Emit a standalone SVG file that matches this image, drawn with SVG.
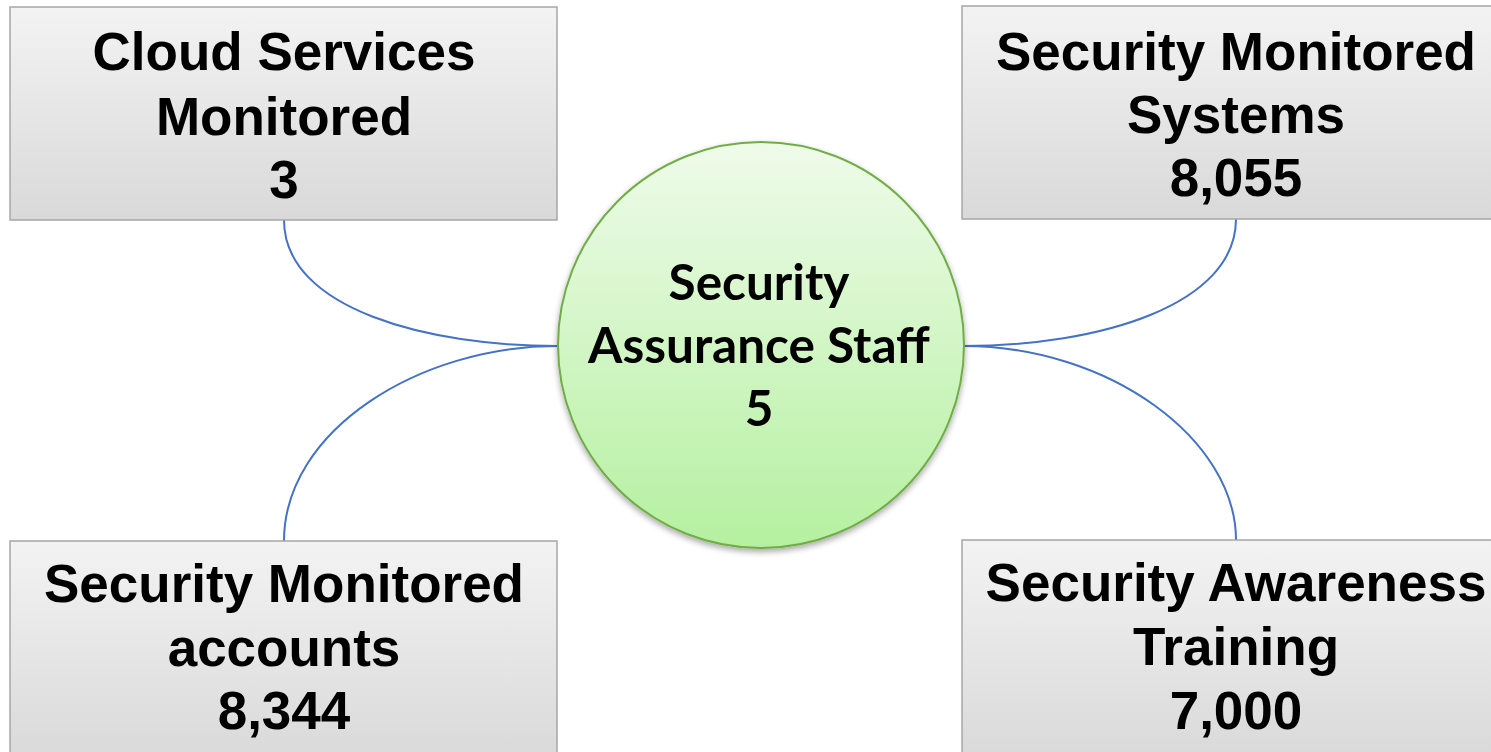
<svg xmlns="http://www.w3.org/2000/svg" width="1491" height="752" viewBox="0 0 1491 752">
<defs>
<linearGradient id="gBox" x1="0" y1="0" x2="0" y2="1">
<stop offset="0" stop-color="#f3f3f3"/>
<stop offset="1" stop-color="#d9d9d9"/>
</linearGradient>
<linearGradient id="gCirc" x1="0" y1="0" x2="0" y2="1">
<stop offset="0" stop-color="#effbea"/>
<stop offset="1" stop-color="#b5f0a0"/>
</linearGradient>
<filter id="sh" x="-20%" y="-20%" width="140%" height="140%">
<feGaussianBlur in="SourceAlpha" stdDeviation="3"/>
<feOffset dx="0" dy="3" result="b"/>
<feComponentTransfer><feFuncA type="linear" slope="0.35"/></feComponentTransfer>
<feMerge><feMergeNode/><feMergeNode in="SourceGraphic"/></feMerge>
</filter>
</defs>
<style>
.box{fill:url(#gBox);stroke:#a6a6a6;stroke-width:1.5}
.bt{font-family:"Liberation Sans",Arial,sans-serif;font-weight:bold;font-size:53px;fill:#000;text-anchor:middle}
.ct{font-family:Lato,"Open Sans",sans-serif;font-weight:bold;font-size:49.5px;fill:#000;text-anchor:middle}
.conn{fill:none;stroke:#4472c4;stroke-width:2}
</style>
<rect width="1491" height="752" fill="#fff"/>
<g id="connectors">
<path class="conn" d="M284,220 C284,310 430,346 557,346"/>
<path class="conn" d="M284,541 C284,430 420,346 557,346"/>
<path class="conn" d="M963,346 C1100,346 1236,305 1236,219"/>
<path class="conn" d="M963,346 C1110,346 1236,440 1236,540"/>
</g>
<g id="n-cloud">
<rect class="box" x="10" y="7" width="547" height="213"/>
<text class="bt" x="284" y="70">Cloud Services</text>
<text class="bt" x="284" y="135">Monitored</text>
<text class="bt" x="284" y="198">3</text>
</g>
<g id="n-systems">
<rect class="box" x="962" y="6" width="560" height="213"/>
<text class="bt" x="1236" y="70">Security Monitored</text>
<text class="bt" x="1236" y="133">Systems</text>
<text class="bt" x="1236" y="196">8,055</text>
</g>
<g id="n-accounts">
<rect class="box" x="10" y="541" width="547" height="220"/>
<text class="bt" x="284" y="602">Security Monitored</text>
<text class="bt" x="284" y="666">accounts</text>
<text class="bt" x="284" y="729">8,344</text>
</g>
<g id="n-training">
<rect class="box" x="962" y="540" width="560" height="220"/>
<text class="bt" x="1236" y="601">Security Awareness</text>
<text class="bt" x="1236" y="665">Training</text>
<text class="bt" x="1236" y="729">7,000</text>
</g>
<g id="n-staff">
<circle cx="761" cy="345" r="203" fill="url(#gCirc)" stroke="#70ad47" stroke-width="2" filter="url(#sh)"/>
<text class="ct" x="759" y="300">Security</text>
<text class="ct" x="759" y="363">Assurance Staff</text>
<text class="ct" x="759" y="426">5</text>
</g>
</svg>
